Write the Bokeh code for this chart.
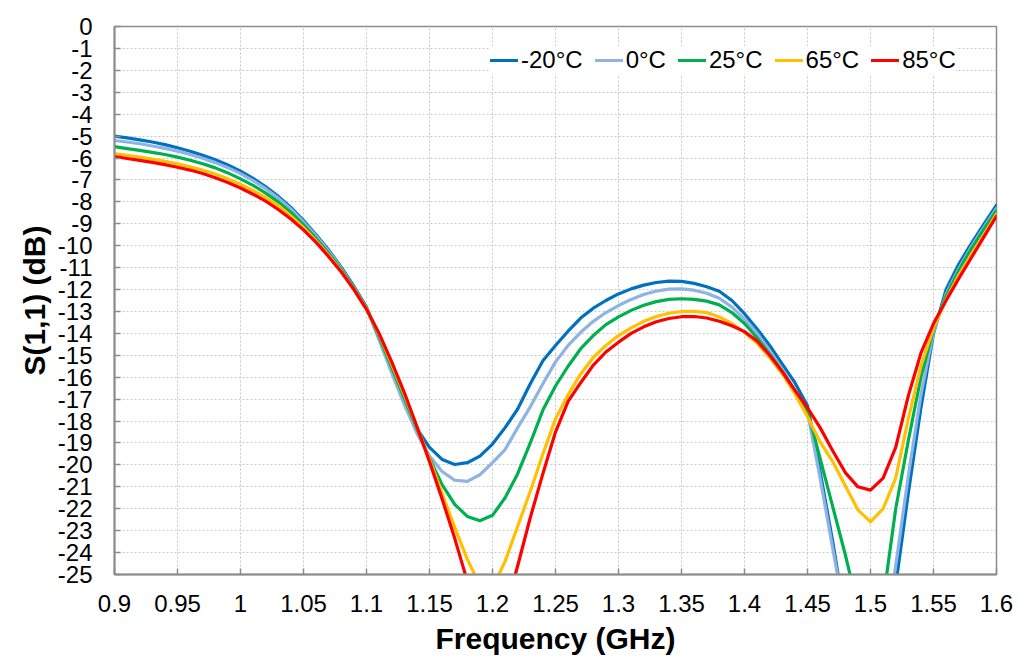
from bokeh.plotting import figure
from bokeh.models import Range1d, FixedTicker, Legend, LegendItem
from bokeh.embed import file_html
from bokeh.resources import INLINE

freq = [0.90, 0.91, 0.92, 0.93, 0.94, 0.95, 0.96, 0.97, 0.98, 0.99,
        1.00, 1.01, 1.02, 1.03, 1.04, 1.05, 1.06, 1.07, 1.08, 1.09,
        1.10, 1.11, 1.12, 1.13, 1.14, 1.15, 1.16, 1.17, 1.18, 1.19,
        1.20, 1.21, 1.22, 1.23, 1.24, 1.25, 1.26, 1.27, 1.28, 1.29,
        1.30, 1.31, 1.32, 1.33, 1.34, 1.35, 1.36, 1.37, 1.38, 1.39,
        1.40, 1.41, 1.42, 1.43, 1.44, 1.45, 1.46, 1.47, 1.48, 1.49,
        1.50, 1.51, 1.52, 1.53, 1.54, 1.55, 1.56, 1.57, 1.58, 1.59,
        1.60]

s11_m20 = [-5.00, -5.08, -5.17, -5.27, -5.39, -5.53, -5.69, -5.87, -6.08, -6.32,
           -6.60, -6.93, -7.31, -7.75, -8.25, -8.85, -9.50, -10.20, -10.98, -11.85,
           -12.80, -14.20, -15.65, -17.10, -18.35, -19.20, -19.75, -19.98, -19.90, -19.60,
           -19.05, -18.30, -17.45, -16.30, -15.25, -14.55, -13.90, -13.30, -12.85, -12.50,
           -12.20, -11.97, -11.80, -11.68, -11.62, -11.63, -11.72, -11.87, -12.08, -12.50,
           -13.10, -13.80, -14.55, -15.40, -16.25, -17.30, -20.30, -23.50, -27.00, -30.00,
           -31.00, -29.00, -25.50, -21.30, -17.40, -14.00, -12.00, -10.85, -9.90, -9.02,
           -8.15]

s11_0 = [-5.20, -5.27, -5.35, -5.45, -5.56, -5.69, -5.84, -6.01, -6.21, -6.44,
         -6.71, -7.03, -7.40, -7.83, -8.32, -8.92, -9.56, -10.25, -11.03, -11.90,
         -12.85, -14.30, -15.80, -17.25, -18.55, -19.60, -20.30, -20.70, -20.75, -20.45,
         -19.90, -19.30, -18.30, -17.35, -16.30, -15.30, -14.55, -13.95, -13.45, -13.05,
         -12.73, -12.45, -12.23, -12.07, -11.98, -11.97, -12.03, -12.17, -12.40, -12.80,
         -13.35, -14.00, -14.80, -15.65, -16.60, -17.60, -20.60, -23.80, -27.00, -29.50,
         -30.50, -28.50, -24.60, -20.50, -16.80, -13.95, -12.20, -11.05, -10.05, -9.15,
         -8.30]

s11_25 = [-5.48, -5.57, -5.65, -5.74, -5.84, -5.96, -6.10, -6.26, -6.45, -6.68,
          -6.95, -7.25, -7.60, -8.00, -8.48, -9.05, -9.68, -10.35, -11.10, -11.93,
          -12.85, -14.15, -15.55, -16.95, -18.35, -19.70, -20.90, -21.80, -22.35, -22.55,
          -22.30, -21.50, -20.40, -19.00, -17.50, -16.40, -15.50, -14.70, -14.10, -13.60,
          -13.25, -12.95, -12.72, -12.55, -12.45, -12.42, -12.45, -12.53, -12.70, -13.05,
          -13.55, -14.20, -14.95, -15.75, -16.60, -17.50, -19.70, -21.90, -24.10, -26.50,
          -27.50, -26.20, -22.00, -18.90, -16.00, -13.80, -12.30, -11.15, -10.15, -9.25,
          -8.40]

s11_65 = [-5.80, -5.88, -5.96, -6.05, -6.15, -6.27, -6.40, -6.55, -6.73, -6.95,
          -7.20, -7.48, -7.80, -8.17, -8.64, -9.18, -9.78, -10.44, -11.17, -11.98,
          -12.88, -14.05, -15.40, -16.80, -18.25, -19.75, -21.30, -22.85, -24.30, -25.50,
          -25.60, -24.40, -22.80, -21.20, -19.50, -17.90, -16.80, -15.85, -15.10, -14.55,
          -14.10, -13.75, -13.45, -13.23, -13.08, -13.00, -12.99, -13.05, -13.25, -13.55,
          -13.95, -14.45, -15.10, -15.85, -16.75, -17.80, -18.95, -19.85, -20.95, -22.05,
          -22.60, -22.00, -20.60, -17.90, -15.50, -13.75, -12.45, -11.35, -10.40, -9.50,
          -8.55]

s11_85 = [-5.93, -6.02, -6.11, -6.20, -6.30, -6.42, -6.55, -6.71, -6.90, -7.12,
          -7.37, -7.65, -7.97, -8.35, -8.78, -9.28, -9.85, -10.50, -11.20, -12.00,
          -12.90, -14.00, -15.30, -16.70, -18.25, -19.85, -21.55, -23.35, -25.30, -26.80,
          -27.20, -26.70, -24.60, -22.40, -20.40, -18.50, -17.10, -16.25, -15.45, -14.85,
          -14.40, -14.00, -13.70, -13.47, -13.32, -13.24, -13.23, -13.30, -13.45, -13.65,
          -13.92, -14.35, -15.00, -15.75, -16.60, -17.40, -18.30, -19.35, -20.35, -21.00,
          -21.15, -20.60, -19.20, -16.85, -14.90, -13.55, -12.50, -11.50, -10.55, -9.60,
          -8.65]

series_names = ["-20°C", "0°C", "25°C", "65°C", "85°C"]
series_values = [s11_m20, s11_0, s11_25, s11_65, s11_85]
series_colors = ["#0070C0", "#8EB4E3", "#00B050", "#FFC000", "#FF0000"]

x_ticks = [0.9, 0.95, 1.0, 1.05, 1.1, 1.15, 1.2, 1.25, 1.3, 1.35, 1.4, 1.45, 1.5, 1.55, 1.6]
x_tick_labels = ["0.9", "0.95", "1", "1.05", "1.1", "1.15", "1.2", "1.25", "1.3",
                 "1.35", "1.4", "1.45", "1.5", "1.55", "1.6"]
y_ticks = [0, -1, -2, -3, -4, -5, -6, -7, -8, -9, -10, -11, -12, -13,
           -14, -15, -16, -17, -18, -19, -20, -21, -22, -23, -24, -25]
y_tick_labels = ["0", "-1", "-2", "-3", "-4", "-5", "-6", "-7", "-8", "-9", "-10",
                 "-11", "-12", "-13", "-14", "-15", "-16", "-17", "-18", "-19",
                 "-20", "-21", "-22", "-23", "-24", "-25"]

FONT = "Liberation Sans"

p = figure(width=1015, height=664,
           x_range=Range1d(0.9, 1.6), y_range=Range1d(-25, 0),
           output_backend="svg", toolbar_location=None,
           min_border_left=114, min_border_right=19,
           min_border_top=26, min_border_bottom=90)

p.background_fill_color = "white"
p.border_fill_color = "white"
p.outline_line_color = "#8C8C8C"
p.outline_line_width = 1.5

# grids
for g in (p.xgrid, p.ygrid):
    g.grid_line_color = "#C8C8C8"
    g.grid_line_dash = "2 2"
    g.grid_line_width = 1
p.xgrid.ticker = FixedTicker(ticks=x_ticks)
p.ygrid.ticker = FixedTicker(ticks=y_ticks)

# x axis
xa = p.xaxis[0]
xa.ticker = FixedTicker(ticks=x_ticks)
xa.major_label_overrides = {t: l for t, l in zip(x_ticks, x_tick_labels)}
xa.axis_label = "Frequency (GHz)"
xa.axis_label_text_font = FONT
xa.axis_label_text_font_style = "bold"
xa.axis_label_text_font_size = "30px"
xa.axis_label_text_color = "black"
xa.axis_label_standoff = 7
xa.major_label_text_font = FONT
xa.major_label_text_font_size = "24px"
xa.major_label_text_color = "black"
xa.major_label_standoff = 20
xa.axis_line_color = "#8C8C8C"
xa.axis_line_width = 2
xa.major_tick_in = 6
xa.major_tick_out = 0
xa.major_tick_line_color = "#8C8C8C"
xa.major_tick_line_width = 1.5
xa.minor_tick_line_color = None

# y axis
ya = p.yaxis[0]
ya.ticker = FixedTicker(ticks=y_ticks)
ya.major_label_overrides = {t: l for t, l in zip(y_ticks, y_tick_labels)}
ya.axis_label = "S(1,1) (dB)"
ya.axis_label_text_font = FONT
ya.axis_label_text_font_style = "bold"
ya.axis_label_text_font_size = "30px"
ya.axis_label_text_color = "black"
ya.axis_label_standoff = 4
ya.major_label_text_font = FONT
ya.major_label_text_font_size = "24px"
ya.major_label_text_color = "black"
ya.major_label_standoff = 22
ya.axis_line_color = "#8C8C8C"
ya.axis_line_width = 2
ya.major_tick_in = 6
ya.major_tick_out = 0
ya.major_tick_line_color = "#8C8C8C"
ya.major_tick_line_width = 1.5
ya.minor_tick_line_color = None

items = []
for name, vals, col in zip(series_names, series_values, series_colors):
    r = p.line(freq, vals, line_color=col, line_width=3.2,
               line_join="round", line_cap="round")
    items.append(LegendItem(label=name, renderers=[r]))

legend = Legend(items=items, orientation="horizontal", location=(376, 500),
                padding=4, spacing=12, label_standoff=3,
                glyph_width=28, glyph_height=20,
                label_text_font=FONT, label_text_font_size="24px",
                label_text_color="black",
                background_fill_color="white", background_fill_alpha=1.0,
                border_line_color=None)
p.add_layout(legend, "center")

open("out.html", "w").write(file_html(p, INLINE))
